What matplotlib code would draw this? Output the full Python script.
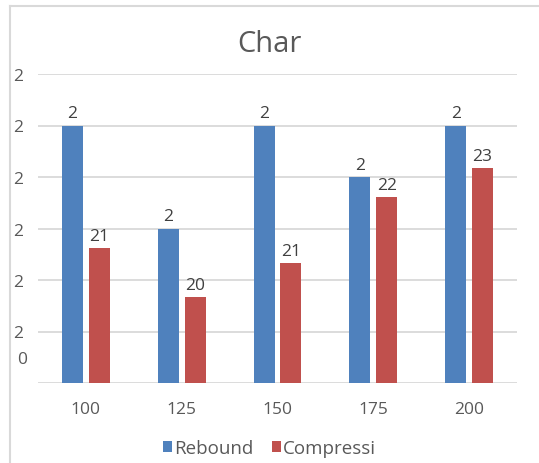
#Imports
import matplotlib.pyplot as plt
import numpy as np

#Data (labels in the original are cut short)
categories = ['100', '125', '150', '175', '200']
rebound = [5.0, 3.0, 5.0, 4.0, 5.0]
compression = [2.62, 1.67, 2.33, 3.61, 4.17]
rebound_labels = ['2', '2', '2', '2', '2']
compression_labels = ['21', '20', '21', '22', '23']
y_ticks = [1, 2, 3, 4, 5, 6]
y_tick_labels = ['2', '2', '2', '2', '2', '2']

plt.rcParams['font.family'] = ['Open Sans', 'DejaVu Sans']
blue = '#4F81BD'
red = '#C0504D'
grid_col = '#D9D9D9'
text_col = '#595959'

fig = plt.figure(figsize=(5.39, 4.64), dpi=100)
ax = fig.add_axes([38/539, 1 - 384/464, (517 - 38)/539, (384 - 75)/464])

x = np.arange(len(categories))
w = 0.22
off = 0.14
b1 = ax.bar(x - off, rebound, w, color=blue, label='Rebound', zorder=3)
b2 = ax.bar(x + off, compression, w, color=red, label='Compressi', zorder=3)

#Data labels
for rect, lab in zip(b1, rebound_labels):
    ax.annotate(lab, (rect.get_x() + rect.get_width()/2, rect.get_height()),
                xytext=(0, 3), textcoords='offset points', ha='center', va='bottom',
                fontsize=12.5, color='#404040')
for rect, lab in zip(b2, compression_labels):
    ax.annotate(lab, (rect.get_x() + rect.get_width()/2, rect.get_height()),
                xytext=(0, 3), textcoords='offset points', ha='center', va='bottom',
                fontsize=12.5, color='#404040')

ax.set_xlim(-0.5, len(categories) - 0.5)
ax.set_ylim(0, 6)
ax.set_yticks([0] + y_ticks)
ax.set_yticklabels([''] + y_tick_labels)
ax.set_xticks(x)
ax.set_xticklabels(categories)
ax.tick_params(axis='both', length=0, labelsize=12.5, colors=text_col)
ax.tick_params(axis='y', pad=11)
ax.tick_params(axis='x', pad=13)
ax.yaxis.grid(True, color=grid_col, linewidth=1.3, zorder=0)
ax.set_axisbelow(True)
for s in ax.spines.values():
    s.set_visible(False)
#wrapped bottom tick label ("2" / "0")
ax.text(-0.5 - 11/95.8, 0.47, '0', ha='right', va='center',
        fontsize=12.5, color=text_col)

fig.text(0.5, 1 - 44/464, 'Char', ha='center', va='center', fontsize=21, color=text_col)

fig.legend(handles=[b1, b2], loc='center', bbox_to_anchor=(0.5, 1 - 449/464), ncol=2,
           frameon=False, fontsize=13.5, handlelength=0.5, handleheight=0.5,
           handletextpad=0.1, columnspacing=1.0, labelcolor=text_col)

#chart border lines
fig.add_artist(plt.Line2D([10/539, 10/539], [0, 1 - 7/464], color=grid_col, linewidth=1.5))
fig.add_artist(plt.Line2D([10/539, 1], [1 - 7/464, 1 - 7/464], color=grid_col, linewidth=1.5))

plt.savefig('out.png', dpi=100)
